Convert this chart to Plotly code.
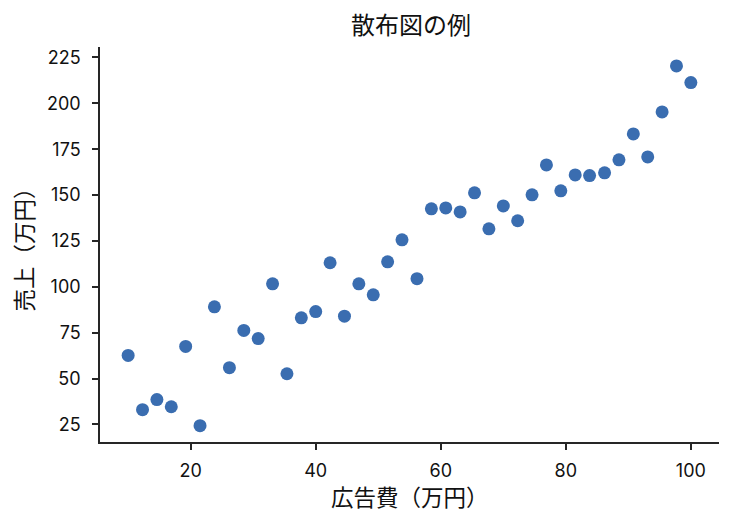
import plotly.graph_objects as go

ad_cost = [10.0, 12.3, 14.6, 16.9, 19.2, 21.5, 23.8, 26.2, 28.5, 30.8,
           33.1, 35.4, 37.7, 40.0, 42.3, 44.6, 46.9, 49.2, 51.5, 53.8,
           56.2, 58.5, 60.8, 63.1, 65.4, 67.7, 70.0, 72.3, 74.6, 76.9,
           79.2, 81.5, 83.8, 86.2, 88.5, 90.8, 93.1, 95.4, 97.7, 100.0]
sales = [62.6, 33.0, 38.5, 34.6, 67.5, 24.3, 89.1, 55.9, 76.2, 71.8,
         101.6, 52.6, 83.1, 86.5, 113.1, 84.0, 101.6, 95.6, 113.6, 125.6,
         104.4, 142.5, 143.0, 140.8, 151.2, 131.6, 144.1, 136.0, 150.1, 166.4,
         152.3, 161.0, 160.6, 162.1, 169.2, 183.3, 170.8, 195.3, 220.4, 211.3]
x_ticks = [20, 40, 60, 80, 100]
y_ticks = [25, 50, 75, 100, 125, 150, 175, 200, 225]

title_text = "散布図の例"
x_label = "広告費（万円）"
y_label = "売上（万円）"

FONT = "Noto Sans CJK JP"
TICKFONT = "Inter, Noto Sans CJK JP"
AX = "#262626"
TXT = "#111111"

fig = go.Figure(go.Scatter(
    x=ad_cost, y=sales, mode="markers",
    marker=dict(size=13, color="#3a6db0", line=dict(width=0)),
    hoverinfo="x+y",
))

axis_common = dict(
    showline=True, linecolor=AX, linewidth=1.5, mirror=False,
    ticks="outside", ticklen=6, tickwidth=1.5, tickcolor=AX,
    showgrid=False, zeroline=False,
    tickfont=dict(family=TICKFONT, size=18, color=TXT),
)

fig.update_layout(
    width=735, height=525,
    margin=dict(l=100, r=16, t=47, b=83),
    paper_bgcolor="white", plot_bgcolor="white",
    font=dict(family=FONT, color=TXT),
    showlegend=False,
    title=dict(text=title_text, x=411 / 735, xanchor="center", xref="container",
               y=1 - 26 / 525, yanchor="middle", yref="container",
               font=dict(family=FONT, size=24, color=TXT)),
    xaxis=dict(range=[5.5, 104.5], tickvals=x_ticks, ticklabelstandoff=6, **axis_common),
    yaxis=dict(range=[15.4, 230.7], tickvals=y_ticks, ticklabelstandoff=8, **axis_common),
    annotations=[
        dict(text=x_label, x=0.5, y=0, xref="paper", yref="paper",
             xanchor="center", yanchor="middle", yshift=-54, showarrow=False,
             font=dict(family=FONT, size=22.5, color=TXT)),
        dict(text=y_label, x=0, y=0.5, xref="paper", yref="paper",
             xanchor="center", yanchor="middle", xshift=-78, textangle=-90,
             showarrow=False,
             font=dict(family=FONT, size=22.5, color=TXT)),
    ],
)

fig.write_html("out.html",
               config={"displayModeBar": False},
               post_script="document.body.style.margin='0';document.body.style.padding='0';")
